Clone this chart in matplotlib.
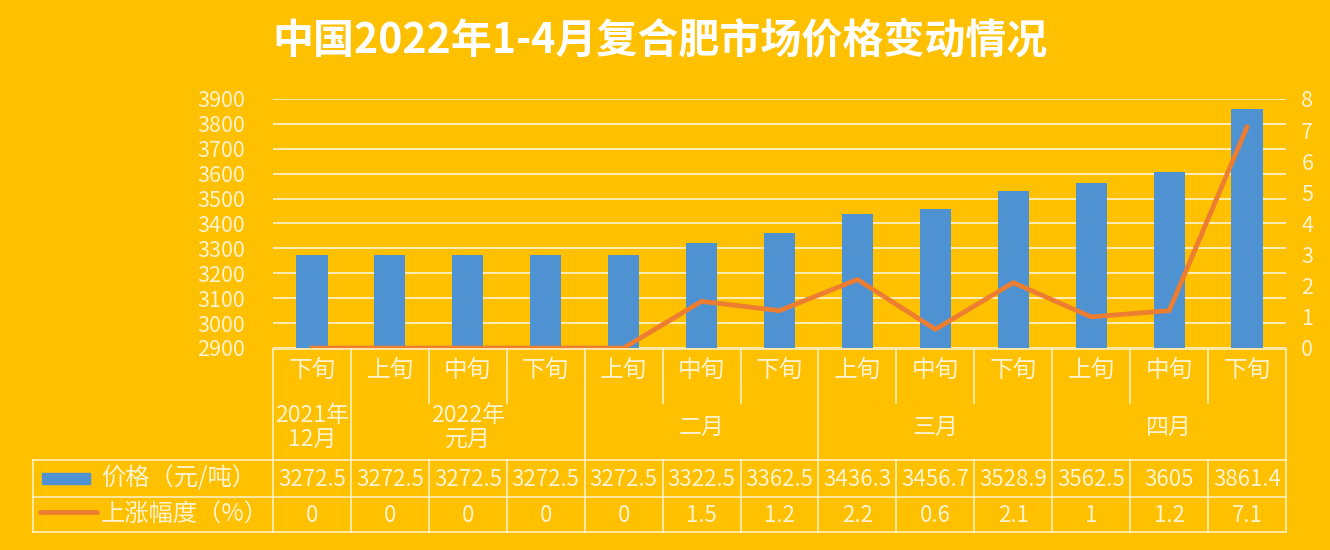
import numpy as np
import matplotlib
matplotlib.use('Agg')
import matplotlib.pyplot as plt
from matplotlib.patches import Rectangle
from matplotlib.lines import Line2D

plt.rcParams['font.family'] = ['Noto Sans CJK SC', 'DejaVu Sans']

# data
periods = ['下旬', '上旬', '中旬', '下旬', '上旬', '中旬', '下旬',
           '上旬', '中旬', '下旬', '上旬', '中旬', '下旬']
months = ['2021年\n12月', '2022年\n元月', '二月', '三月', '四月']
month_spans = [(0, 1), (1, 4), (4, 7), (7, 10), (10, 13)]
price = [3272.5, 3272.5, 3272.5, 3272.5, 3272.5, 3322.5, 3362.5,
         3436.3, 3456.7, 3528.9, 3562.5, 3605, 3861.4]
price_txt = ['3272.5', '3272.5', '3272.5', '3272.5', '3272.5', '3322.5', '3362.5',
             '3436.3', '3456.7', '3528.9', '3562.5', '3605', '3861.4']
pct = [0, 0, 0, 0, 0, 1.5, 1.2, 2.2, 0.6, 2.1, 1, 1.2, 7.1]
pct_txt = ['0', '0', '0', '0', '0', '1.5', '1.2', '2.2', '0.6', '2.1', '1', '1.2', '7.1']
series_names = ['价格（元/吨）', '上涨幅度（%）']

bg = '#FFC000'
blue = '#4F92D1'
orange = '#ED7D31'
cream = '#FFF3D2'
gridc = '#FFF0C4'

W, H = 1330, 550
fig = plt.figure(figsize=(W / 100, H / 100), dpi=100, facecolor=bg)

# plot area in pixels
x0, x1, ytop, ybot = 273, 1286, 99, 348
ax = fig.add_axes([x0 / W, 1 - ybot / H, (x1 - x0) / W, (ybot - ytop) / H])
ax.set_facecolor(bg)
ax2 = ax.twinx()

n = len(price)
x = np.arange(n)
ax.bar(x, price, width=0.4, color=blue, zorder=2)
ax.set_xlim(-0.5, n - 0.5)
ax.set_ylim(2900, 3900)
ax.set_yticks(np.arange(2900, 3901, 100))
ax.grid(axis='y', color=gridc, lw=1.3, zorder=0)
ax.set_axisbelow(True)
ax.set_xticks([])

ax2.plot(x, pct, color=orange, lw=3.4, solid_joinstyle='round', zorder=3)
ax2.set_ylim(0, 8)
ax2.set_yticks(range(0, 9))

for a in (ax, ax2):
    for s in a.spines.values():
        s.set_visible(False)
    a.tick_params(length=0, colors=cream, labelsize=15.5)
ax.tick_params(axis='y', pad=20)
ax2.tick_params(axis='y', pad=11)

# table below the plot, drawn in axes coordinates
def yf(py):
    return (ybot - py) / (ybot - ytop)

def xf(px):
    return (px - x0) / (x1 - x0)

tr = ax.get_xaxis_transform()
lw = 1.1
t_top, t_short, t_month, t_mid, t_bot = 349, 403, 460, 497, 532
left_px = 33

def hline(xa, xb, py):
    ax.add_line(Line2D([xf(xa), xf(xb)], [yf(py), yf(py)], transform=ax.transAxes,
                       color=cream, lw=lw, clip_on=False))

def vline(xd, pa, pb):
    ax.add_line(Line2D([xd, xd], [yf(pa), yf(pb)], transform=tr,
                       color=cream, lw=lw, clip_on=False))

hline(x0, x1, t_top)
hline(left_px, x1, t_month)
hline(left_px, x1, t_mid)
hline(left_px, x1, t_bot)
ax.add_line(Line2D([xf(left_px), xf(left_px)], [yf(t_month), yf(t_bot)],
                   transform=ax.transAxes, color=cream, lw=lw, clip_on=False))

group_edges = {0, 1, 4, 7, 10, 13}
for i in range(n + 1):
    xd = i - 0.5
    if i in group_edges:
        vline(xd, t_top, t_bot)
    else:
        vline(xd, t_top, t_short)
        vline(xd, t_month, t_bot)

for i in range(n):
    ax.text(i, yf(370), periods[i], transform=tr, ha='center', va='center',
            color=cream, fontsize=17)
    ax.text(i, yf(479), price_txt[i], transform=tr, ha='center', va='center',
            color=cream, fontsize=16)
    ax.text(i, yf(515), pct_txt[i], transform=tr, ha='center', va='center',
            color=cream, fontsize=16)

for lab, (a, b) in zip(months, month_spans):
    ax.text((a + b - 1) / 2, yf(427), lab, transform=tr, ha='center', va='center',
            color=cream, fontsize=16.5, linespacing=1.05)

# legend keys in the table
ax.add_patch(Rectangle((xf(42), yf(484)), xf(90) - xf(42), yf(473) - yf(484),
                       transform=ax.transAxes, color=blue, clip_on=False))
ax.add_line(Line2D([xf(40), xf(97)], [yf(512), yf(512)], transform=ax.transAxes,
                   color=orange, lw=3.4, solid_capstyle='round', clip_on=False))
ax.text(xf(101), yf(479), series_names[0], transform=ax.transAxes, ha='left',
        va='center', color=cream, fontsize=17.5)
ax.text(xf(101), yf(515), series_names[1], transform=ax.transAxes, ha='left',
        va='center', color=cream, fontsize=17.5)

fig.text(660 / W, 1 - 40 / H, '中国2022年1-4月复合肥市场价格变动情况',
         ha='center', va='center', color='white', fontsize=29.5, fontweight='bold')

fig.savefig('out.png', dpi=100, facecolor=bg)
